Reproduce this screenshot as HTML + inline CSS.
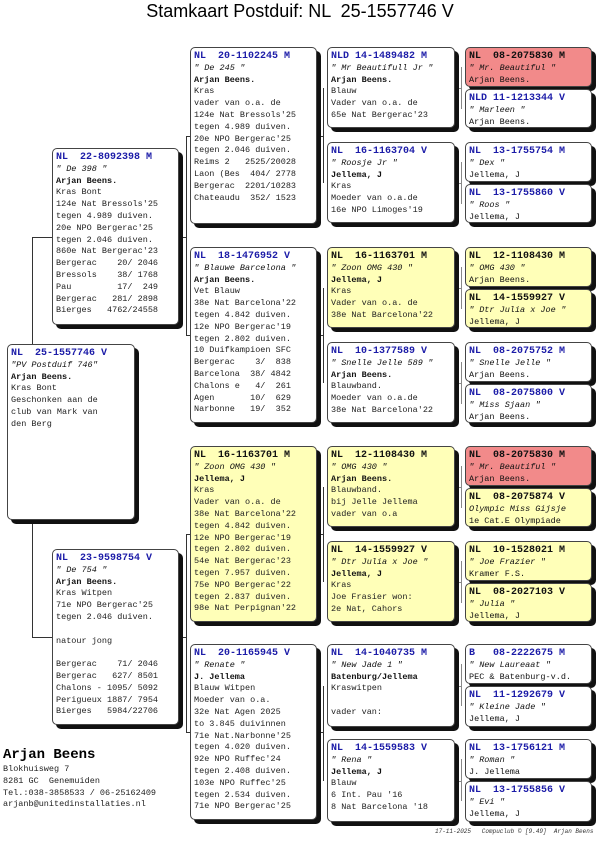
<!DOCTYPE html>
<html><head><meta charset="utf-8">
<style>
html,body{margin:0;padding:0;background:#fff;}
body{width:600px;height:861px;position:relative;overflow:hidden;font-family:"Liberation Mono",monospace;}
#title{position:absolute;left:0;width:600px;top:1px;text-align:center;font-family:"Liberation Sans",sans-serif;font-size:18px;color:#000;white-space:pre;}
.box{position:absolute;border:1px solid #444;border-radius:5px;box-shadow:4px 4px 0 #111;box-sizing:border-box;padding:3px 0 0 3px;overflow:hidden;}
.ln{font-size:8.5px;line-height:11.8px;height:11.8px;white-space:pre;color:#222;}
.hd{font-size:10px;font-weight:bold;color:#1c1ca8;}
.yel .hd,.red .hd{color:#111;}
.nm{font-style:italic;color:#111;}
.ow{font-weight:bold;color:#111;}
.small .ow{font-weight:normal;color:#111;}
.white{background:#fff;}
.yel{background:#ffffb8;}
.red{background:#f28a8a;}
.line{position:absolute;background:#333;}
#owner{position:absolute;left:3px;top:746px;}
#foot{position:absolute;left:435px;top:828px;font-size:6px;font-style:italic;color:#333;white-space:pre;}
</style></head><body>
<div id="title">Stamkaart Postduif: NL  25-1557746 V</div>
<div id="lines"></div>
<div id="boxes"></div>
<div id="owner">
<div style="font-size:14px;font-weight:bold;line-height:18px;">Arjan Beens</div>
<div class="ln">Blokhuisweg 7</div>
<div class="ln">8281 GC  Genemuiden</div>
<div class="ln">Tel.:038-3858533 / 06-25162409</div>
<div class="ln">arjanb@unitedinstallaties.nl</div>
</div>
<div id="foot">17-11-2025   Compuclub © [9.49]  Arjan Beens</div>
<script>
const boxes=[
[7,344,128,176,'white',["NL  25-1557746 V",'"PV Postduif 746"',"Arjan Beens.","Kras Bont","Geschonken aan de","club van Mark van","den Berg"]],
[52,148,127,177,'white',["NL  22-8092398 M",'" De 398 "',"Arjan Beens.","Kras Bont","124e Nat Bressols'25","tegen 4.989 duiven.","20e NPO Bergerac'25","tegen 2.046 duiven.","860e Nat Bergerac'23","Bergerac    20/ 2046","Bressols    38/ 1768","Pau         17/  249","Bergerac   281/ 2898","Bierges   4762/24558"]],
[52,549,127,176,'white',["NL  23-9598754 V",'" De 754 "',"Arjan Beens.","Kras Witpen","71e NPO Bergerac'25","tegen 2.046 duiven.","","natour jong","","Bergerac    71/ 2046","Bergerac   627/ 8501","Chalons - 1095/ 5092","Perigueux 1887/ 7954","Bierges   5984/22706"]],
[190,47,127,177,'white',["NL  20-1102245 M",'" De 245 "',"Arjan Beens.","Kras","vader van o.a. de","124e Nat Bressols'25","tegen 4.989 duiven.","20e NPO Bergerac'25","tegen 2.046 duiven.","Reims 2   2525/20028","Laon (Bes  404/ 2778","Bergerac  2201/10283","Chateaudu  352/ 1523"]],
[190,247,127,176,'white',["NL  18-1476952 V",'" Blauwe Barcelona "',"Arjan Beens.","Vet Blauw","38e Nat Barcelona'22","tegen 4.842 duiven.","12e NPO Bergerac'19","tegen 2.802 duiven.","10 Duifkampioen SFC","Bergerac    3/  838","Barcelona  38/ 4842","Chalons e   4/  261","Agen       10/  629","Narbonne   19/  352"]],
[190,446,127,176,'yel',["NL  16-1163701 M",'" Zoon OMG 430 "',"Jellema, J","Kras","Vader van o.a. de","38e Nat Barcelona'22","tegen 4.842 duiven.","12e NPO Bergerac'19","tegen 2.802 duiven.","54e Nat Bergerac'23","tegen 7.957 duiven.","75e NPO Bergerac'22","tegen 2.837 duiven.","98e Nat Perpignan'22"]],
[190,644,127,176,'white',["NL  20-1165945 V",'" Renate "',"J. Jellema","Blauw Witpen","Moeder van o.a.","32e Nat Agen 2025","to 3.845 duivinnen","71e Nat.Narbonne'25","tegen 4.020 duiven.","92e NPO Ruffec'24","tegen 2.408 duiven.","103e NPO Ruffec'25","tegen 2.534 duiven.","71e NPO Bergerac'25"]],
[327,47,128,81,'white',["NLD 14-1489482 M",'" Mr Beautifull Jr "',"Arjan Beens.","Blauw","Vader van o.a. de","65e Nat Bergerac'23"]],
[327,142,128,81,'white',["NL  16-1163704 V",'" Roosje Jr "',"Jellema, J","Kras","Moeder van o.a.de","16e NPO Limoges'19"]],
[327,247,128,81,'yel',["NL  16-1163701 M",'" Zoon OMG 430 "',"Jellema, J","Kras","Vader van o.a. de","38e Nat Barcelona'22"]],
[327,342,128,81,'white',["NL  10-1377589 V",'" Snelle Jelle 589 "',"Arjan Beens.","Blauwband.","Moeder van o.a.de","38e Nat Barcelona'22"]],
[327,446,128,81,'yel',["NL  12-1108430 M",'" OMG 430 "',"Arjan Beens.","Blauwband.","bij Jelle Jellema","vader van o.a"]],
[327,541,128,81,'yel',["NL  14-1559927 V",'" Dtr Julia x Joe "',"Jellema, J","Kras","Joe Frasier won:","2e Nat, Cahors"]],
[327,644,128,83,'white',["NL  14-1040735 M",'" New Jade 1 "',"Batenburg/Jellema","Kraswitpen","","vader van:"]],
[327,739,128,83,'white',["NL  14-1559583 V",'" Rena "',"Jellema, J","Blauw","6 Int. Pau '16","8 Nat Barcelona '18"]]
];
const gen4=[
['red',["NL  08-2075830 M",'" Mr. Beautiful "',"Arjan Beens."],'white',["NLD 11-1213344 V",'" Marleen "',"Arjan Beens."]],
['white',["NL  13-1755754 M",'" Dex "',"Jellema, J"],'white',["NL  13-1755860 V",'" Roos "',"Jellema, J"]],
['yel',["NL  12-1108430 M",'" OMG 430 "',"Arjan Beens."],'yel',["NL  14-1559927 V",'" Dtr Julia x Joe "',"Jellema, J"]],
['white',["NL  08-2075752 M",'" Snelle Jelle "',"Arjan Beens."],'white',["NL  08-2075800 V",'" Miss Sjaan "',"Arjan Beens."]],
['red',["NL  08-2075830 M",'" Mr. Beautiful "',"Arjan Beens."],'yel',["NL  08-2075874 V","Olympic Miss Gijsje","1e Cat.E Olympiade"]],
['yel',["NL  10-1528021 M",'" Joe Frazier "',"Kramer F.S."],'yel',["NL  08-2027103 V",'" Julia "',"Jellema, J"]],
['white',["B   08-2222675 M",'" New Laureaat "',"PEC & Batenburg-v.d."],'white',["NL  11-1292679 V",'" Kleine Jade "',"Jellema, J"]],
['white',["NL  13-1756121 M",'" Roman "',"J. Jellema"],'white',["NL  13-1755856 V",'" Evi "',"Jellema, J"]]
];
const all=boxes.slice();
for(let i=0;i<8;i++){const p=boxes[7+i];const g=gen4[i];
all.push([465,p[1],127,40,g[0]+' small',g[1]]);
all.push([465,p[1]+42,127,p[3]-42,g[2]+' small',g[3]]);}
const bc=document.getElementById('boxes');
all.forEach((b,i)=>{
const d=document.createElement('div');


d.className='box '+b[4];
d.style.cssText=`left:${b[0]}px;top:${b[1]}px;width:${b[2]}px;height:${b[3]}px;`;
b[5].forEach((t,j)=>{const l=document.createElement('div');
l.className='ln'+(j==0?' hd':j==1?' nm':j==2?' ow':'');
l.textContent=t;d.appendChild(l);});
bc.appendChild(d);});
const lc=document.getElementById('lines');
function seg(x,y,w,h,c){const e=document.createElement('div');


e.className='line';e.style.cssText=`left:${x}px;top:${y}px;width:${w}px;height:${h}px;`+(c?`background:${c};`:'');lc.appendChild(e);}
const mid=b=>Math.round(b[1]+b[3]/2);
seg(32,mid(boxes[1]),1,mid(boxes[2])-mid(boxes[1]));
seg(32,mid(boxes[1]),20,1);seg(32,mid(boxes[2]),20,1);
[[1,3,4],[2,5,6]].forEach(([c,a,b])=>{const x=186;
seg(x,mid(boxes[a]),1,mid(boxes[b])-mid(boxes[a]));
seg(179,mid(boxes[c]),8,1);seg(x,mid(boxes[a]),4,1);seg(x,mid(boxes[b]),4,1);});
for(let i=0;i<4;i++){const c=boxes[3+i],a=boxes[7+2*i],b=boxes[8+2*i];const x=323;
seg(x,mid(a),1,mid(b)-mid(a));seg(317,mid(c),7,1);}
for(let i=0;i<8;i++){const p=boxes[7+i];const x=461;
seg(x,p[1]+20,1,42,'#888');seg(455,mid(p),7,1,'#888');}
</script>
</body></html>
